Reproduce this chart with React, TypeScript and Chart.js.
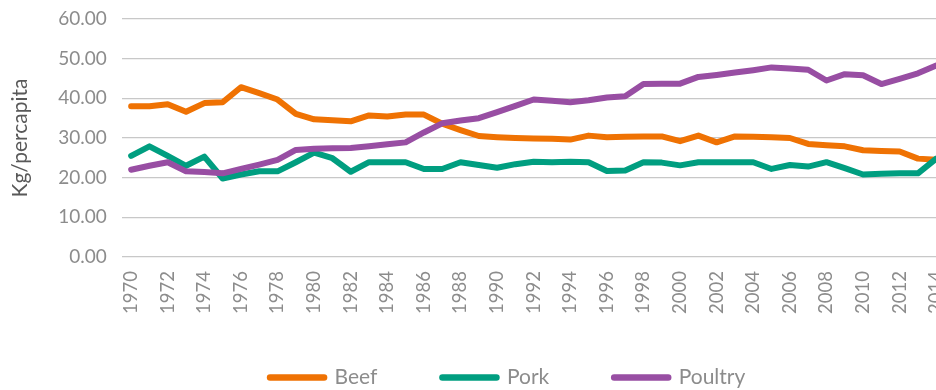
import React, { useEffect, useRef } from "react";
import { Chart, registerables } from "chart.js";

Chart.register(...registerables);

const years: string[] = [
  "1970", "1971", "1972", "1973", "1974", "1975", "1976", "1977", "1978", "1979",
  "1980", "1981", "1982", "1983", "1984", "1985", "1986", "1987", "1988", "1989",
  "1990", "1991", "1992", "1993", "1994", "1995", "1996", "1997", "1998", "1999",
  "2000", "2001", "2002", "2003", "2004", "2005", "2006", "2007", "2008", "2009",
  "2010", "2011", "2012", "2013", "2014",
];

const beef: number[] = [
  38.0, 38.0, 38.5, 36.6, 38.8, 39.0, 42.8, 41.3, 39.7, 36.1,
  34.7, 34.5, 34.2, 35.7, 35.4, 35.9, 35.9, 33.6, 32.0, 30.5,
  30.2, 30.0, 29.9, 29.8, 29.6, 30.6, 30.2, 30.3, 30.4, 30.4,
  29.2, 30.6, 28.9, 30.4, 30.3, 30.2, 30.0, 28.5, 28.2, 27.9,
  26.9, 26.7, 26.6, 24.8, 24.5,
];

const pork: number[] = [
  25.5, 27.9, 25.5, 23.0, 25.3, 19.8, 20.8, 21.6, 21.6, 23.9,
  26.3, 24.9, 21.5, 23.9, 23.9, 23.9, 22.2, 22.2, 23.9, 23.2,
  22.5, 23.4, 24.0, 23.9, 24.0, 23.9, 21.7, 21.8, 23.9, 23.8,
  23.1, 23.9, 23.9, 23.9, 23.9, 22.2, 23.2, 22.8, 23.9, 22.4,
  20.8, 21.0, 21.1, 21.1, 24.8,
];

const poultry: number[] = [
  22.0, 23.0, 23.9, 21.6, 21.4, 21.1, 22.2, 23.3, 24.5, 27.0,
  27.3, 27.4, 27.5, 27.9, 28.4, 28.9, 31.4, 33.7, 34.4, 35.0,
  36.5, 38.1, 39.7, 39.4, 39.0, 39.5, 40.2, 40.5, 43.6, 43.7,
  43.7, 45.4, 45.9, 46.5, 47.1, 47.8, 47.5, 47.2, 44.5, 46.1,
  45.8, 43.6, 44.9, 46.3, 48.3,
];

const seriesNames = ["Beef", "Pork", "Poultry"];
const seriesColors = ["#EF7203", "#009E80", "#984EA3"];
const yTitle = "Kg/percapita";

export default function App() {
  const ref = useRef<HTMLCanvasElement | null>(null);

  useEffect(() => {
    if (!ref.current) return;
    const values = [beef, pork, poultry];
    const chart = new Chart(ref.current, {
      type: "line",
      data: {
        labels: years,
        datasets: seriesNames.map((name, i) => ({
          label: name,
          data: values[i],
          borderColor: seriesColors[i],
          backgroundColor: seriesColors[i],
          borderWidth: 6,
          borderCapStyle: "round" as const,
          borderJoinStyle: "round" as const,
          pointRadius: 0,
          pointHoverRadius: 0,
          tension: 0,
          order: 3 - i,
        })),
      },
      options: {
        responsive: false,
        animation: false,
        layout: { padding: { left: 70, right: 14.6, top: 19, bottom: 0 } },
        plugins: {
          tooltip: { enabled: false },
          legend: {
            position: "bottom",
            maxHeight: 73,
            title: {
              display: true,
              text: "",
              font: { size: 1 },
              padding: { top: -8.1, bottom: -8.1 },
            },
            labels: {
              usePointStyle: true,
              pointStyleWidth: 54,
              padding: 65,
              font: { family: "Lato", size: 21 },
              color: "#8c8c8c",
              generateLabels: (c: any) =>
                c.data.datasets.map((ds: any, i: number) => ({
                  text: ds.label,
                  fillStyle: ds.borderColor,
                  strokeStyle: ds.borderColor,
                  lineWidth: 6.5,
                  lineCap: "round",
                  pointStyle: "line",
                  fontColor: "#8c8c8c",
                  hidden: false,
                  datasetIndex: i,
                })),
            },
          },
        },
        scales: {
          x: {
            type: "category",
            offset: true,
            grid: { display: false, drawTicks: true, tickLength: 14 },
            border: { display: false },
            ticks: {
              autoSkip: false,
              minRotation: 90,
              maxRotation: 90,
              padding: 0,
              color: "#8c8c8c",
              font: { family: "Lato", size: 18.5 },
              callback: (_v: any, idx: number) => (idx % 2 === 0 ? years[idx] : ""),
            },
            afterFit: (s: any) => {
              s.height = 60;
            },
          },
          y: {
            min: 0,
            max: 60,
            grid: { color: "#c8c8c8", lineWidth: 1.2, drawTicks: false },
            border: { display: false },
            ticks: {
              stepSize: 10,
              mirror: true,
              crossAlign: "far",
              padding: -63.7,
              color: "#8c8c8c",
              font: { family: "Lato", size: 19 },
              callback: (v: any) => Number(v).toFixed(2),
            },
            title: {
              display: true,
              text: yTitle,
              color: "#595959",
              font: { family: "Lato", size: 21 },
              padding: { top: -62.6, bottom: 0 },
            },
            afterFit: (s: any) => {
              s.width = 52;
            },
          },
        },
      },
    });
    return () => chart.destroy();
  }, []);

  return (
    <div
      style={{
        position: "absolute",
        left: 0,
        top: 0,
        width: 936,
        height: 390,
        overflow: "hidden",
        background: "#ffffff",
      }}
    >
      <canvas ref={ref} width={960} height={390} style={{ display: "block" }} />
    </div>
  );
}
